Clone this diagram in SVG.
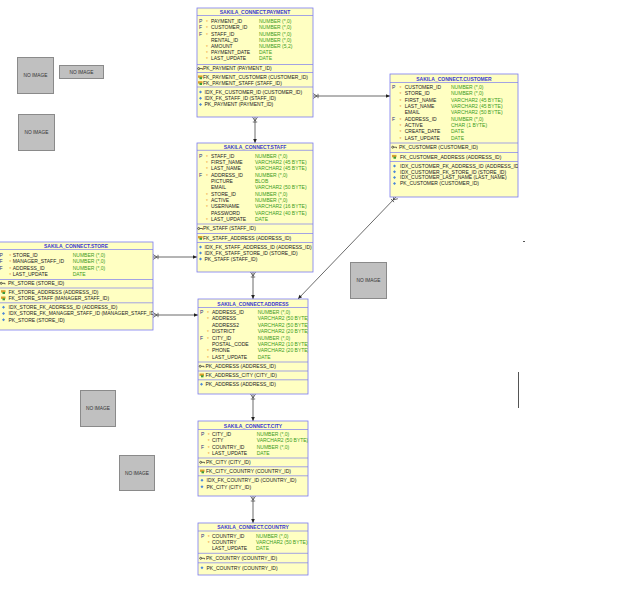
<svg xmlns="http://www.w3.org/2000/svg" xmlns:xlink="http://www.w3.org/1999/xlink" width="639" height="611" viewBox="0 0 639 611">
<style>
.box{fill:#ffffc2;stroke:#7b7bf0;stroke-width:0.8}
.sep{stroke:#7b7bf0;stroke-width:0.7}
text{font-family:"Liberation Sans",Arial,sans-serif;font-size:5px}
.t{font-weight:bold;fill:#3a3ad0;text-anchor:middle}
.n{fill:#222}
.ty{fill:#3c9c1c}
.k{fill:#303080}
.s{fill:#f0a040}
.c{stroke:#444;stroke-width:0.8;fill:none}
.ni{fill:#c0c0c0;stroke:#8a8a8a;stroke-width:1}
.nt{font-size:4.8px;fill:#333;text-anchor:middle}
</style>
<defs>
<g id="pk"><circle cx="1.2" cy="0" r="1" fill="none" stroke="#222" stroke-width="0.7"/><path d="M2.2,0h2.8v1" stroke="#222" stroke-width="0.7" fill="none"/></g>
<g id="fk"><rect x="0" y="-1.8" width="4.5" height="2.4" fill="#d9a030"/><rect x="1.5" y="0" width="2.5" height="2" fill="#3a9a3a"/></g>
<g id="ix"><path d="M0,0 l1.5,-1.5 l1.5,1.5 l-1.5,1.5z" fill="#4a86d8"/></g>
<marker id="arr" markerUnits="userSpaceOnUse" markerWidth="10" markerHeight="10" refX="0" refY="0" orient="auto" overflow="visible"><path d="M0,0 L-4,-1.8 L-4,1.8 z" fill="#222"/></marker>
<marker id="crow" markerUnits="userSpaceOnUse" markerWidth="10" markerHeight="10" refX="0" refY="0" orient="auto" overflow="visible"><path d="M0,-2.5 L4,0 M0,2.5 L4,0 M5,-2.2 V2.2" stroke="#333" stroke-width="0.7" fill="none"/></marker>
<clipPath id="cpPay"><rect x="197" y="8" width="116" height="109"/></clipPath>
<clipPath id="cpCus"><rect x="390" y="74" width="128" height="123"/></clipPath>
<clipPath id="cpSta"><rect x="197" y="143" width="116" height="129"/></clipPath>
<clipPath id="cpSto"><rect x="-3" y="242" width="156" height="88"/></clipPath>
<clipPath id="cpAdd"><rect x="198" y="299" width="110" height="95"/></clipPath>
<clipPath id="cpCit"><rect x="198" y="421" width="110" height="75"/></clipPath>
<clipPath id="cpCou"><rect x="198" y="523" width="110" height="52"/></clipPath>
</defs>
<rect width="639" height="611" fill="#ffffff"/>

<g id="noimages">
<rect class="ni" x="17.5" y="57.5" width="36" height="36"/><text class="nt" x="35.5" y="77.2">NO IMAGE</text>
<rect class="ni" x="59.5" y="65.5" width="44" height="13"/><text class="nt" x="81.5" y="73.7">NO IMAGE</text>
<rect class="ni" x="18.5" y="114.5" width="36" height="36"/><text class="nt" x="36.5" y="134.2">NO IMAGE</text>
<rect class="ni" x="350.5" y="262.5" width="36" height="36"/><text class="nt" x="368.5" y="282.2">NO IMAGE</text>
<rect class="ni" x="80.5" y="390.5" width="35" height="36"/><text class="nt" x="98" y="410.2">NO IMAGE</text>
<rect class="ni" x="119.5" y="455.5" width="35" height="35"/><text class="nt" x="137" y="474.7">NO IMAGE</text>
</g>

<g id="connectors">
<path class="c" d="M313,96 H390" marker-start="url(#crow)" marker-end="url(#arr)"/>
<path class="c" d="M255,117 V143" marker-start="url(#crow)" marker-end="url(#arr)"/>
<path class="c" d="M253,272 V299" marker-start="url(#crow)" marker-end="url(#arr)"/>
<path class="c" d="M253,394 V421" marker-start="url(#crow)" marker-end="url(#arr)"/>
<path class="c" d="M253,496 V523" marker-start="url(#crow)" marker-end="url(#arr)"/>
<path class="c" d="M153,257 H197" marker-start="url(#crow)" marker-end="url(#arr)"/>
<path class="c" d="M153,315 H198" marker-start="url(#crow)" marker-end="url(#arr)"/>
<path class="c" d="M396,197 L298,299" stroke="#666" marker-start="url(#crow)" marker-end="url(#arr)"/>
<path d="M518.5,372 V408" stroke="#555" stroke-width="1"/>
<path d="M523,241.5 H525" stroke="#555" stroke-width="1"/>
</g>

<g id="payment">
<rect class="box" x="197" y="8" width="116" height="109"/>
<g clip-path="url(#cpPay)">
<text class="t" x="255" y="13.8">SAKILA_CONNECT.PAYMENT</text>
<line class="sep" x1="197" y1="15.5" x2="313" y2="15.5"/>
<text class="k" x="199" y="23.1">P</text><text class="s" x="206" y="24.1">*</text><text class="n" x="211" y="23.1">PAYMENT_ID</text><text class="ty" x="259" y="23.1">NUMBER (*,0)</text>
<text class="k" x="199" y="29.3">F</text><text class="s" x="206" y="30.3">*</text><text class="n" x="211" y="29.3">CUSTOMER_ID</text><text class="ty" x="259" y="29.3">NUMBER (*,0)</text>
<text class="k" x="199" y="35.5">F</text><text class="s" x="206" y="36.5">*</text><text class="n" x="211" y="35.5">STAFF_ID</text><text class="ty" x="259" y="35.5">NUMBER (*,0)</text>
<text class="n" x="211" y="41.7">RENTAL_ID</text><text class="ty" x="259" y="41.7">NUMBER (*,0)</text>
<text class="s" x="206" y="48.9">*</text><text class="n" x="211" y="47.9">AMOUNT</text><text class="ty" x="259" y="47.9">NUMBER (5,2)</text>
<text class="s" x="206" y="55.1">*</text><text class="n" x="211" y="54.1">PAYMENT_DATE</text><text class="ty" x="259" y="54.1">DATE</text>
<text class="s" x="206" y="61.3">*</text><text class="n" x="211" y="60.3">LAST_UPDATE</text><text class="ty" x="259" y="60.3">DATE</text>
<line class="sep" x1="197" y1="64.5" x2="313" y2="64.5"/>
<use href="#pk" x="197.5" y="68.6"/><text class="n" x="203" y="70.4">PK_PAYMENT (PAYMENT_ID)</text>
<line class="sep" x1="197" y1="72.5" x2="313" y2="72.5"/>
<use href="#fk" x="198" y="77.2"/><text class="n" x="203" y="79">FK_PAYMENT_CUSTOMER (CUSTOMER_ID)</text>
<use href="#fk" x="198" y="83"/><text class="n" x="203" y="84.8">FK_PAYMENT_STAFF (STAFF_ID)</text>
<line class="sep" x1="197" y1="87" x2="313" y2="87"/>
<use href="#ix" x="199" y="92"/><text class="n" x="204.5" y="93.8">IDX_FK_CUSTOMER_ID (CUSTOMER_ID)</text>
<use href="#ix" x="199" y="98.2"/><text class="n" x="204.5" y="100">IDX_FK_STAFF_ID (STAFF_ID)</text>
<use href="#ix" x="199" y="104.4"/><text class="n" x="204.5" y="106.2">PK_PAYMENT (PAYMENT_ID)</text>
</g>
</g>

<g id="customer">
<rect class="box" x="390" y="74" width="128" height="123"/>
<g clip-path="url(#cpCus)">
<text class="t" x="454" y="80.5">SAKILA_CONNECT.CUSTOMER</text>
<line class="sep" x1="390" y1="82.5" x2="518" y2="82.5"/>
<text class="k" x="392" y="88.8">P</text><text class="s" x="399.5" y="89.8">*</text><text class="n" x="404.7" y="88.8">CUSTOMER_ID</text><text class="ty" x="451" y="88.8">NUMBER (*,0)</text>
<text class="s" x="399.5" y="96.2">*</text><text class="n" x="404.7" y="95.2">STORE_ID</text><text class="ty" x="451" y="95.2">NUMBER (*,0)</text>
<text class="s" x="399.5" y="102.5">*</text><text class="n" x="404.7" y="101.5">FIRST_NAME</text><text class="ty" x="451" y="101.5">VARCHAR2 (45 BYTE)</text>
<text class="s" x="399.5" y="108.9">*</text><text class="n" x="404.7" y="107.9">LAST_NAME</text><text class="ty" x="451" y="107.9">VARCHAR2 (45 BYTE)</text>
<text class="n" x="404.7" y="114.3">EMAIL</text><text class="ty" x="451" y="114.3">VARCHAR2 (50 BYTE)</text>
<text class="k" x="392" y="120.7">F</text><text class="s" x="399.5" y="121.7">*</text><text class="n" x="404.7" y="120.7">ADDRESS_ID</text><text class="ty" x="451" y="120.7">NUMBER (*,0)</text>
<text class="s" x="399.5" y="128">*</text><text class="n" x="404.7" y="127">ACTIVE</text><text class="ty" x="451" y="127">CHAR (1 BYTE)</text>
<text class="s" x="399.5" y="134.4">*</text><text class="n" x="404.7" y="133.4">CREATE_DATE</text><text class="ty" x="451" y="133.4">DATE</text>
<text class="s" x="399.5" y="140.8">*</text><text class="n" x="404.7" y="139.8">LAST_UPDATE</text><text class="ty" x="451" y="139.8">DATE</text>
<line class="sep" x1="390" y1="143" x2="518" y2="143"/>
<use href="#pk" x="391.5" y="147.2"/><text class="n" x="399" y="149">PK_CUSTOMER (CUSTOMER_ID)</text>
<line class="sep" x1="390" y1="152.5" x2="518" y2="152.5"/>
<use href="#fk" x="392" y="156.7"/><text class="n" x="400" y="158.5">FK_CUSTOMER_ADDRESS (ADDRESS_ID)</text>
<line class="sep" x1="390" y1="161.5" x2="518" y2="161.5"/>
<use href="#ix" x="393" y="166"/><text class="n" x="400" y="167.8">IDX_CUSTOMER_FK_ADDRESS_ID (ADDRESS_ID)</text>
<use href="#ix" x="393" y="171.8"/><text class="n" x="400" y="173.6">IDX_CUSTOMER_FK_STORE_ID (STORE_ID)</text>
<use href="#ix" x="393" y="177.5"/><text class="n" x="400" y="179.3">IDX_CUSTOMER_LAST_NAME (LAST_NAME)</text>
<use href="#ix" x="393" y="183.5"/><text class="n" x="400" y="185.3">PK_CUSTOMER (CUSTOMER_ID)</text>
</g>
</g>

<g id="staff">
<rect class="box" x="197" y="143" width="116" height="129"/>
<g clip-path="url(#cpSta)">
<text class="t" x="255" y="148.6">SAKILA_CONNECT.STAFF</text>
<line class="sep" x1="197" y1="150.3" x2="313" y2="150.3"/>
<text class="k" x="199" y="157.8">P</text><text class="s" x="206" y="158.8">*</text><text class="n" x="211" y="157.8">STAFF_ID</text><text class="ty" x="255" y="157.8">NUMBER (*,0)</text>
<text class="s" x="206" y="165.1">*</text><text class="n" x="211" y="164.1">FIRST_NAME</text><text class="ty" x="255" y="164.1">VARCHAR2 (45 BYTE)</text>
<text class="s" x="206" y="171.4">*</text><text class="n" x="211" y="170.4">LAST_NAME</text><text class="ty" x="255" y="170.4">VARCHAR2 (45 BYTE)</text>
<text class="k" x="199" y="176.7">F</text><text class="s" x="206" y="177.7">*</text><text class="n" x="211" y="176.7">ADDRESS_ID</text><text class="ty" x="255" y="176.7">NUMBER (*,0)</text>
<text class="n" x="211" y="183">PICTURE</text><text class="ty" x="255" y="183">BLOB</text>
<text class="n" x="211" y="189.3">EMAIL</text><text class="ty" x="255" y="189.3">VARCHAR2 (50 BYTE)</text>
<text class="s" x="206" y="196.6">*</text><text class="n" x="211" y="195.6">STORE_ID</text><text class="ty" x="255" y="195.6">NUMBER (*,0)</text>
<text class="s" x="206" y="202.9">*</text><text class="n" x="211" y="201.9">ACTIVE</text><text class="ty" x="255" y="201.9">NUMBER (*,0)</text>
<text class="s" x="206" y="209.2">*</text><text class="n" x="211" y="208.2">USERNAME</text><text class="ty" x="255" y="208.2">VARCHAR2 (16 BYTE)</text>
<text class="n" x="211" y="214.5">PASSWORD</text><text class="ty" x="255" y="214.5">VARCHAR2 (40 BYTE)</text>
<text class="s" x="206" y="221.8">*</text><text class="n" x="211" y="220.8">LAST_UPDATE</text><text class="ty" x="255" y="220.8">DATE</text>
<line class="sep" x1="197" y1="224" x2="313" y2="224"/>
<use href="#pk" x="197.5" y="228.5"/><text class="n" x="203" y="230.3">PK_STAFF (STAFF_ID)</text>
<line class="sep" x1="197" y1="233.5" x2="313" y2="233.5"/>
<use href="#fk" x="198" y="237.8"/><text class="n" x="203" y="239.6">FK_STAFF_ADDRESS (ADDRESS_ID)</text>
<line class="sep" x1="197" y1="242.5" x2="313" y2="242.5"/>
<use href="#ix" x="199" y="247"/><text class="n" x="204.5" y="248.8">IDX_FK_STAFF_ADDRESS_ID (ADDRESS_ID)</text>
<use href="#ix" x="199" y="253"/><text class="n" x="204.5" y="254.8">IDX_FK_STAFF_STORE_ID (STORE_ID)</text>
<use href="#ix" x="199" y="259"/><text class="n" x="204.5" y="260.8">PK_STAFF (STAFF_ID)</text>
</g>
</g>

<g id="store">
<rect class="box" x="-3" y="242" width="156" height="88"/>
<g clip-path="url(#cpSto)">
<text class="t" x="76" y="247.8">SAKILA_CONNECT.STORE</text>
<line class="sep" x1="-3" y1="249.5" x2="153" y2="249.5"/>
<text class="k" x="-0.5" y="256.8">P</text><text class="s" x="9.3" y="257.8">*</text><text class="n" x="12.7" y="256.8">STORE_ID</text><text class="ty" x="72.7" y="256.8">NUMBER (*,0)</text>
<text class="k" x="-0.5" y="263.2">F</text><text class="s" x="9.3" y="264.2">*</text><text class="n" x="12.7" y="263.2">MANAGER_STAFF_ID</text><text class="ty" x="72.7" y="263.2">NUMBER (*,0)</text>
<text class="k" x="-0.5" y="269.6">F</text><text class="s" x="9.3" y="270.6">*</text><text class="n" x="12.7" y="269.6">ADDRESS_ID</text><text class="ty" x="72.7" y="269.6">NUMBER (*,0)</text>
<text class="s" x="9.3" y="277">*</text><text class="n" x="12.7" y="276">LAST_UPDATE</text><text class="ty" x="72.7" y="276">DATE</text>
<line class="sep" x1="-3" y1="279.5" x2="153" y2="279.5"/>
<use href="#pk" x="0" y="283.3"/><text class="n" x="8" y="285.1">PK_STORE (STORE_ID)</text>
<line class="sep" x1="-3" y1="288" x2="153" y2="288"/>
<use href="#fk" x="1" y="292"/><text class="n" x="8.5" y="293.8">FK_STORE_ADDRESS (ADDRESS_ID)</text>
<use href="#fk" x="1" y="298.3"/><text class="n" x="8.5" y="300.1">FK_STORE_STAFF (MANAGER_STAFF_ID)</text>
<line class="sep" x1="-3" y1="302.8" x2="153" y2="302.8"/>
<use href="#ix" x="2" y="307.3"/><text class="n" x="8.5" y="309.1">IDX_STORE_FK_ADDRESS_ID (ADDRESS_ID)</text>
<use href="#ix" x="2" y="313.5"/><text class="n" x="8.5" y="315.3">IDX_STORE_FK_MANAGER_STAFF_ID (MANAGER_STAFF_ID)</text>
<use href="#ix" x="2" y="319.8"/><text class="n" x="8.5" y="321.6">PK_STORE (STORE_ID)</text>
</g>
</g>

<g id="address">
<rect class="box" x="198" y="299" width="110" height="95"/>
<g clip-path="url(#cpAdd)">
<text class="t" x="253" y="305.5">SAKILA_CONNECT.ADDRESS</text>
<line class="sep" x1="198" y1="307.5" x2="308" y2="307.5"/>
<text class="k" x="200" y="313.8">P</text><text class="s" x="207" y="314.8">*</text><text class="n" x="212" y="313.8">ADDRESS_ID</text><text class="ty" x="257.7" y="313.8">NUMBER (*,0)</text>
<text class="s" x="207" y="321.3">*</text><text class="n" x="212" y="320.3">ADDRESS</text><text class="ty" x="257.7" y="320.3">VARCHAR2 (50 BYTE)</text>
<text class="n" x="212" y="326.7">ADDRESS2</text><text class="ty" x="257.7" y="326.7">VARCHAR2 (50 BYTE)</text>
<text class="s" x="207" y="334">*</text><text class="n" x="212" y="333">DISTRICT</text><text class="ty" x="257.7" y="333">VARCHAR2 (20 BYTE)</text>
<text class="k" x="200" y="339.6">F</text><text class="s" x="207" y="340.6">*</text><text class="n" x="212" y="339.6">CITY_ID</text><text class="ty" x="257.7" y="339.6">NUMBER (*,0)</text>
<text class="n" x="212" y="345.9">POSTAL_CODE</text><text class="ty" x="257.7" y="345.9">VARCHAR2 (10 BYTE)</text>
<text class="s" x="207" y="353.2">*</text><text class="n" x="212" y="352.2">PHONE</text><text class="ty" x="257.7" y="352.2">VARCHAR2 (20 BYTE)</text>
<text class="s" x="207" y="359.6">*</text><text class="n" x="212" y="358.6">LAST_UPDATE</text><text class="ty" x="257.7" y="358.6">DATE</text>
<line class="sep" x1="198" y1="362" x2="308" y2="362"/>
<use href="#pk" x="199" y="366.3"/><text class="n" x="205.5" y="368.1">PK_ADDRESS (ADDRESS_ID)</text>
<line class="sep" x1="198" y1="371" x2="308" y2="371"/>
<use href="#fk" x="199.5" y="375.3"/><text class="n" x="205.5" y="377.1">FK_ADDRESS_CITY (CITY_ID)</text>
<line class="sep" x1="198" y1="379.8" x2="308" y2="379.8"/>
<use href="#ix" x="200" y="384.3"/><text class="n" x="205.5" y="386.1">PK_ADDRESS (ADDRESS_ID)</text>
</g>
</g>

<g id="city">
<rect class="box" x="198" y="421" width="110" height="75"/>
<g clip-path="url(#cpCit)">
<text class="t" x="253" y="427.5">SAKILA_CONNECT.CITY</text>
<line class="sep" x1="198" y1="429.5" x2="308" y2="429.5"/>
<text class="k" x="201" y="435.8">P</text><text class="s" x="207.7" y="436.8">*</text><text class="n" x="212" y="435.8">CITY_ID</text><text class="ty" x="256.7" y="435.8">NUMBER (*,0)</text>
<text class="s" x="207.7" y="443.1">*</text><text class="n" x="212" y="442.1">CITY</text><text class="ty" x="256.7" y="442.1">VARCHAR2 (50 BYTE)</text>
<text class="k" x="201" y="448.5">F</text><text class="s" x="207.7" y="449.5">*</text><text class="n" x="212" y="448.5">COUNTRY_ID</text><text class="ty" x="256.7" y="448.5">NUMBER (*,0)</text>
<text class="s" x="207.7" y="455.8">*</text><text class="n" x="212" y="454.8">LAST_UPDATE</text><text class="ty" x="256.7" y="454.8">DATE</text>
<line class="sep" x1="198" y1="458" x2="308" y2="458"/>
<use href="#pk" x="199.5" y="462.3"/><text class="n" x="206" y="464.1">PK_CITY (CITY_ID)</text>
<line class="sep" x1="198" y1="466.8" x2="308" y2="466.8"/>
<use href="#fk" x="200" y="471.3"/><text class="n" x="206" y="473.1">FK_CITY_COUNTRY (COUNTRY_ID)</text>
<line class="sep" x1="198" y1="475.8" x2="308" y2="475.8"/>
<use href="#ix" x="200.5" y="480.3"/><text class="n" x="206.5" y="482.1">IDX_FK_COUNTRY_ID (COUNTRY_ID)</text>
<use href="#ix" x="200.5" y="486.7"/><text class="n" x="206.5" y="488.5">PK_CITY (CITY_ID)</text>
</g>
</g>

<g id="country">
<rect class="box" x="198" y="523" width="110" height="52"/>
<g clip-path="url(#cpCou)">
<text class="t" x="253" y="529.1">SAKILA_CONNECT.COUNTRY</text>
<line class="sep" x1="198" y1="531" x2="308" y2="531"/>
<text class="k" x="201" y="537.5">P</text><text class="s" x="207.7" y="538.5">*</text><text class="n" x="212" y="537.5">COUNTRY_ID</text><text class="ty" x="256" y="537.5">NUMBER (*,0)</text>
<text class="s" x="207.7" y="544.6">*</text><text class="n" x="212" y="543.6">COUNTRY</text><text class="ty" x="256" y="543.6">VARCHAR2 (50 BYTE)</text>
<text class="n" x="212" y="550">LAST_UPDATE</text><text class="ty" x="256" y="550">DATE</text>
<line class="sep" x1="198" y1="553.3" x2="308" y2="553.3"/>
<use href="#pk" x="199.5" y="558.3"/><text class="n" x="206" y="560.1">PK_COUNTRY (COUNTRY_ID)</text>
<line class="sep" x1="198" y1="562.8" x2="308" y2="562.8"/>
<use href="#ix" x="200.5" y="567.7"/><text class="n" x="206.5" y="569.5">PK_COUNTRY (COUNTRY_ID)</text>
</g>
</g>
</svg>
